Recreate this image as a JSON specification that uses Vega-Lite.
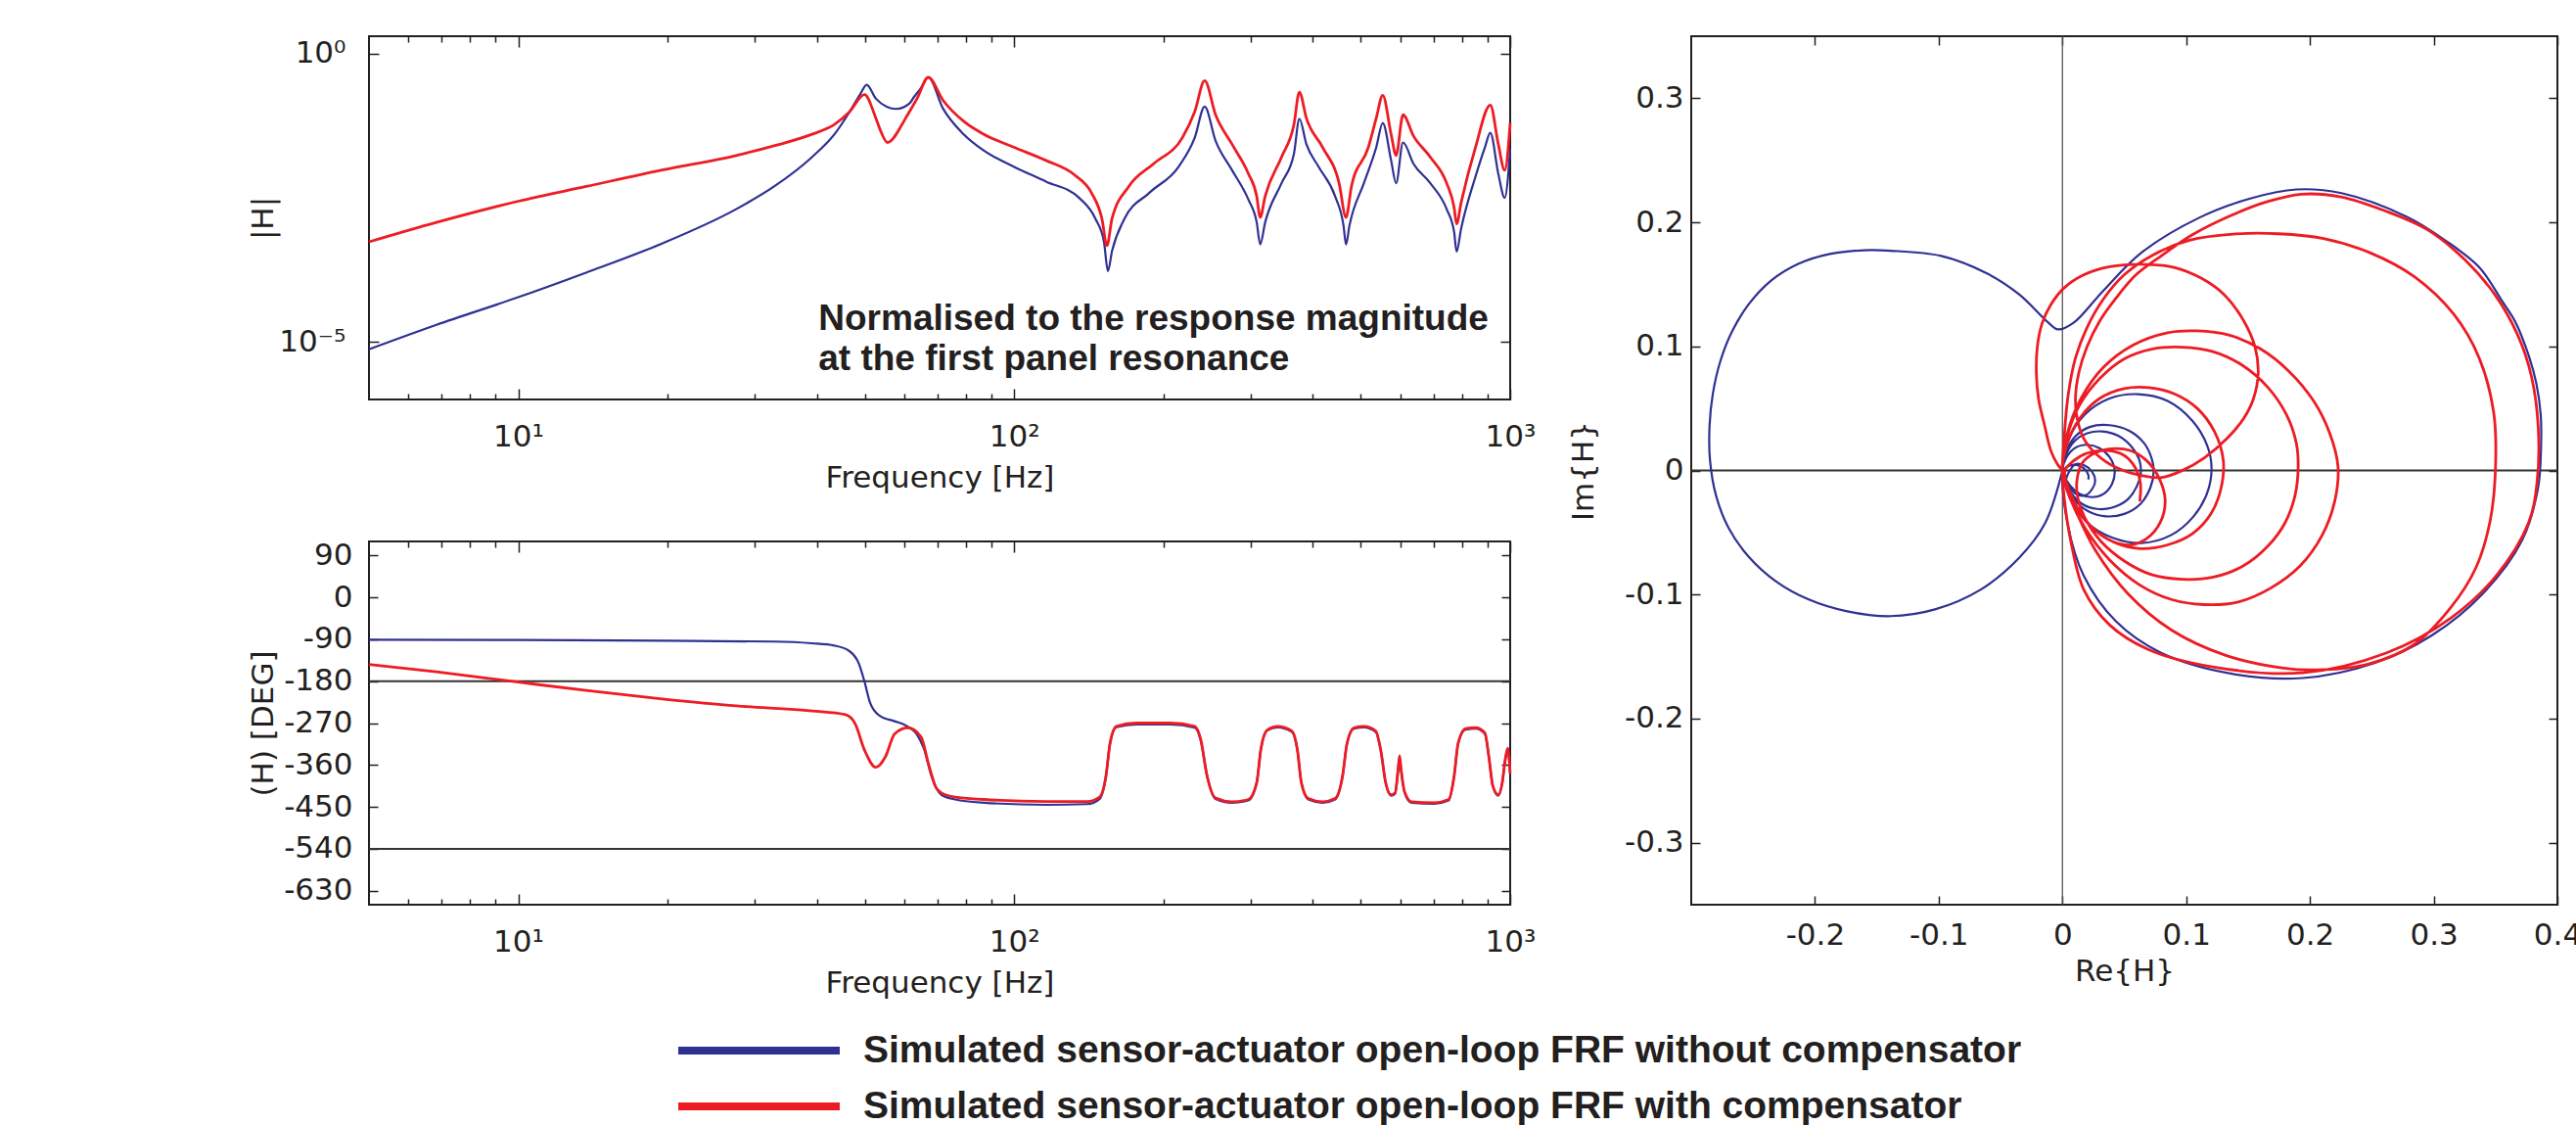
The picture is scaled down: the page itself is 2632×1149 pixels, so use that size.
{
  "$schema": "https://vega.github.io/schema/vega-lite/v6.json",
  "background": "white",
  "padding": {"left": 252, "top": 35, "right": 0, "bottom": 0},
  "config": {
    "view": {"stroke": "#231f20", "strokeWidth": 2},
    "font": "DejaVu Sans",
    "axis": {
      "labelFont": "DejaVu Sans", "labelFontSize": 31, "labelColor": "#231f20",
      "titleFont": "DejaVu Sans", "titleFontSize": 31, "titleFontWeight": "normal", "titleColor": "#231f20",
      "domain": false, "grid": false, "tickColor": "#231f20", "tickWidth": 1.5,
      "labelOverlap": false, "labelFlush": false, "labelBound": false
    },
    "legend": {
      "symbolType": "stroke", "symbolSize": 27225, "symbolStrokeWidth": 8, "clipHeight": 40,
      "rowPadding": 17, "labelOffset": 20, "labelFont": "Liberation Sans", "labelFontSize": 39,
      "labelFontWeight": "bold", "labelColor": "#231f20", "labelLimit": 3000, "padding": 0, "direction": "vertical"
    }
  },
  "datasets": {
    "magnitude": [
      {"series":"without","freq":5,"mag":7.41e-6},{"series":"without","freq":6.84,"mag":1.97e-5},{"series":"without","freq":10,"mag":5.94e-5},{"series":"without","freq":13.7,"mag":1.585e-4},{"series":"without","freq":19.5,"mag":5.08e-4},{"series":"without","freq":27.5,"mag":2.0e-3},{"series":"without","freq":32.8,"mag":4.95e-3},{"series":"without","freq":39.1,"mag":0.016},{"series":"without","freq":43.4,"mag":0.0398},{"series":"without","freq":46.6,"mag":0.0986},{"series":"without","freq":49.0,"mag":0.202},{"series":"without","freq":50.4,"mag":0.287},{"series":"without","freq":52.6,"mag":0.166},{"series":"without","freq":55.3,"mag":0.12},{"series":"without","freq":57.8,"mag":0.1096},{"series":"without","freq":61.5,"mag":0.1368},{"series":"without","freq":62.8,"mag":0.177},{"series":"without","freq":64.7,"mag":0.2455},{"series":"without","freq":67.1,"mag":0.387},{"series":"without","freq":71.8,"mag":0.1125},{"series":"without","freq":79.1,"mag":0.0397},{"series":"without","freq":86.9,"mag":0.0207},{"series":"without","freq":100,"mag":0.0108},{"series":"without","freq":115.9,"mag":6.03e-3},{"series":"without","freq":135.2,"mag":3.14e-3},{"series":"without","freq":145.9,"mag":1.35e-3},{"series":"without","freq":151.7,"mag":5.42e-4},{"series":"without","freq":154.5,"mag":1.68e-4},{"series":"without","freq":157.4,"mag":3.67e-4},{"series":"without","freq":166.7,"mag":1.35e-3},{"series":"without","freq":187.1,"mag":3.82e-3},{"series":"without","freq":214.3,"mag":0.0108},{"series":"without","freq":231.2,"mag":0.0348},{"series":"without","freq":242.1,"mag":0.12},{"series":"without","freq":254.7,"mag":0.0306},{"series":"without","freq":274.8,"mag":9.55e-3},{"series":"without","freq":296.5,"mag":2.95e-3},{"series":"without","freq":308.3,"mag":1.18e-3},{"series":"without","freq":313.3,"mag":4.9e-4},{"series":"without","freq":320.6,"mag":1.18e-3},{"series":"without","freq":345.9,"mag":5.64e-3},{"series":"without","freq":366.4,"mag":0.0182},{"series":"without","freq":375.8,"mag":0.0741},{"series":"without","freq":388.2,"mag":0.0269},{"series":"without","freq":411.1,"mag":0.0108},{"series":"without","freq":443.6,"mag":3.35e-3},{"series":"without","freq":461.3,"mag":1.04e-3},{"series":"without","freq":466.7,"mag":4.9e-4},{"series":"without","freq":474.2,"mag":1.04e-3},{"series":"without","freq":507,"mag":5.64e-3},{"series":"without","freq":537,"mag":0.0236},{"series":"without","freq":553.4,"mag":0.0627},{"series":"without","freq":575.4,"mag":0.014},{"series":"without","freq":588.8,"mag":5.64e-3},{"series":"without","freq":608.1,"mag":0.0287},{"series":"without","freq":638.3,"mag":0.0123},{"series":"without","freq":690.2,"mag":5.64e-3},{"series":"without","freq":744.7,"mag":2.0e-3},{"series":"without","freq":770.9,"mag":8.02e-4},{"series":"without","freq":779.8,"mag":3.67e-4},{"series":"without","freq":796.2,"mag":9.12e-4},{"series":"without","freq":851.1,"mag":7.31e-3},{"series":"without","freq":889.2,"mag":0.0236},{"series":"without","freq":912,"mag":0.0424},{"series":"without","freq":946.2,"mag":8.32e-3},{"series":"without","freq":975,"mag":3.14e-3},{"series":"without","freq":1000,"mag":0.0221},
      {"series":"with","freq":5,"mag":5.42e-4},{"series":"with","freq":6.84,"mag":1.18e-3},{"series":"with","freq":10,"mag":2.75e-3},{"series":"with","freq":13.7,"mag":4.95e-3},{"series":"with","freq":19.5,"mag":9.55e-3},{"series":"with","freq":27.5,"mag":0.0171},{"series":"with","freq":32.8,"mag":0.0251},{"series":"with","freq":39.1,"mag":0.0398},{"series":"with","freq":43.4,"mag":0.0589},{"series":"with","freq":46.6,"mag":0.0986},{"series":"with","freq":49.9,"mag":0.194},{"series":"with","freq":52.6,"mag":0.0759},{"series":"with","freq":53.8,"mag":0.0452},{"series":"with","freq":55.5,"mag":0.0287},{"series":"with","freq":59.4,"mag":0.0589},{"series":"with","freq":60.4,"mag":0.076},{"series":"with","freq":63.7,"mag":0.166},{"series":"with","freq":67.1,"mag":0.387},{"series":"with","freq":71.8,"mag":0.156},{"series":"with","freq":79.1,"mag":0.0668},{"series":"with","freq":86.9,"mag":0.0397},{"series":"with","freq":100,"mag":0.0236},{"series":"with","freq":115.9,"mag":0.014},{"series":"with","freq":132.4,"mag":7.82e-3},{"series":"with","freq":143.2,"mag":3.82e-3},{"series":"with","freq":150.3,"mag":1.35e-3},{"series":"with","freq":153.8,"mag":4.65e-4},{"series":"with","freq":157.4,"mag":1.35e-3},{"series":"with","freq":170.2,"mag":4.95e-3},{"series":"with","freq":191,"mag":0.0123},{"series":"with","freq":218.3,"mag":0.0348},{"series":"with","freq":231.2,"mag":0.0986},{"series":"with","freq":242.1,"mag":0.34},{"series":"with","freq":254.7,"mag":0.0867},{"series":"with","freq":274.8,"mag":0.0269},{"series":"with","freq":296.5,"mag":8.32e-3},{"series":"with","freq":308.3,"mag":3.35e-3},{"series":"with","freq":313.3,"mag":1.44e-3},{"series":"with","freq":320.6,"mag":3.35e-3},{"series":"with","freq":345.9,"mag":0.016},{"series":"with","freq":366.4,"mag":0.0586},{"series":"with","freq":375.8,"mag":0.215},{"series":"with","freq":388.2,"mag":0.076},{"series":"with","freq":418.8,"mag":0.0236},{"series":"with","freq":451.9,"mag":5.64e-3},{"series":"with","freq":466.7,"mag":1.44e-3},{"series":"with","freq":478.6,"mag":4.95e-3},{"series":"with","freq":517.6,"mag":0.0236},{"series":"with","freq":537,"mag":0.076},{"series":"with","freq":553.4,"mag":0.189},{"series":"with","freq":575.4,"mag":0.0397},{"series":"with","freq":588.8,"mag":0.0171},{"series":"with","freq":608.1,"mag":0.0867},{"series":"with","freq":638.3,"mag":0.0372},{"series":"with","freq":690.2,"mag":0.016},{"series":"with","freq":744.7,"mag":5.64e-3},{"series":"with","freq":770.9,"mag":2.13e-3},{"series":"with","freq":779.8,"mag":1.11e-3},{"series":"with","freq":796.2,"mag":2.58e-3},{"series":"with","freq":851.1,"mag":0.0236},{"series":"with","freq":912,"mag":0.128},{"series":"with","freq":946.2,"mag":0.0269},{"series":"with","freq":975,"mag":9.48e-3},{"series":"with","freq":1000,"mag":0.0627}
    ],
    "phase": [
      {"series":"without","freq":5,"phase":-91},{"series":"without","freq":10,"phase":-91.7},{"series":"without","freq":19.5,"phase":-93},{"series":"without","freq":32.8,"phase":-95},{"series":"without","freq":39.1,"phase":-98.7},{"series":"without","freq":43.4,"phase":-103.6},{"series":"without","freq":46.6,"phase":-116},{"series":"without","freq":48.6,"phase":-142},{"series":"without","freq":49.9,"phase":-181},{"series":"without","freq":51.2,"phase":-226},{"series":"without","freq":53.5,"phase":-254},{"series":"without","freq":57.4,"phase":-266},{"series":"without","freq":60.4,"phase":-275},{"series":"without","freq":63.7,"phase":-295},{"series":"without","freq":65.9,"phase":-328},{"series":"without","freq":68.2,"phase":-386},{"series":"without","freq":71.3,"phase":-424},{"series":"without","freq":76,"phase":-434},{"series":"without","freq":86.9,"phase":-441},{"series":"without","freq":115.9,"phase":-445.5},{"series":"without","freq":140.3,"phase":-444},{"series":"without","freq":148.6,"phase":-433},{"series":"without","freq":153.1,"phase":-384},{"series":"without","freq":156,"phase":-314},{"series":"without","freq":160.7,"phase":-279},{"series":"without","freq":176.6,"phase":-273},{"series":"without","freq":206.1,"phase":-273},{"series":"without","freq":231.2,"phase":-280},{"series":"without","freq":237.7,"phase":-307},{"series":"without","freq":244.9,"phase":-384},{"series":"without","freq":254.7,"phase":-433},{"series":"without","freq":274.8,"phase":-441},{"series":"without","freq":296.5,"phase":-436},{"series":"without","freq":308.3,"phase":-398},{"series":"without","freq":314.1,"phase":-328},{"series":"without","freq":323.6,"phase":-286},{"series":"without","freq":339.6,"phase":-279},{"series":"without","freq":363.1,"phase":-289},{"series":"without","freq":372.4,"phase":-328},{"series":"without","freq":379.3,"phase":-398},{"series":"without","freq":391.7,"phase":-434},{"series":"without","freq":418.8,"phase":-441},{"series":"without","freq":443.6,"phase":-434},{"series":"without","freq":459.2,"phase":-384},{"series":"without","freq":468.8,"phase":-314},{"series":"without","freq":484.2,"phase":-282},{"series":"without","freq":507,"phase":-279},{"series":"without","freq":535.8,"phase":-289},{"series":"without","freq":548.3,"phase":-328},{"series":"without","freq":561,"phase":-398},{"series":"without","freq":575.4,"phase":-426},{"series":"without","freq":586.1,"phase":-422},{"series":"without","freq":594.3,"phase":-370},{"series":"without","freq":598.4,"phase":-342},{"series":"without","freq":602.6,"phase":-370},{"series":"without","freq":612.4,"phase":-419},{"series":"without","freq":632.4,"phase":-441},{"series":"without","freq":703.1,"phase":-443},{"series":"without","freq":751.6,"phase":-436},{"series":"without","freq":770.9,"phase":-384},{"series":"without","freq":785.2,"phase":-314},{"series":"without","freq":812.8,"phase":-284},{"series":"without","freq":851.1,"phase":-282},{"series":"without","freq":889.2,"phase":-293},{"series":"without","freq":905.7,"phase":-342},{"series":"without","freq":922.6,"phase":-405},{"series":"without","freq":946.2,"phase":-426},{"series":"without","freq":963.9,"phase":-398},{"series":"without","freq":977.2,"phase":-349},{"series":"without","freq":988.6,"phase":-326},{"series":"without","freq":1000,"phase":-380},
      {"series":"with","freq":5,"phase":-144},{"series":"with","freq":6.84,"phase":-160},{"series":"with","freq":10,"phase":-182},{"series":"with","freq":13.7,"phase":-200},{"series":"with","freq":19.5,"phase":-218},{"series":"with","freq":27.5,"phase":-233},{"series":"with","freq":39.1,"phase":-244},{"series":"with","freq":45.7,"phase":-252},{"series":"with","freq":47.8,"phase":-272},{"series":"with","freq":49.9,"phase":-328},{"series":"with","freq":52.6,"phase":-365},{"series":"with","freq":55,"phase":-342},{"series":"with","freq":57.4,"phase":-293},{"series":"with","freq":61,"phase":-280},{"series":"with","freq":64.9,"phase":-300},{"series":"with","freq":67.1,"phase":-356},{"series":"with","freq":69.5,"phase":-408},{"series":"with","freq":71.1,"phase":-419},{"series":"with","freq":76,"phase":-429},{"series":"with","freq":86.9,"phase":-434},{"series":"with","freq":115.9,"phase":-438.5},{"series":"with","freq":140.3,"phase":-438.5},{"series":"with","freq":148.6,"phase":-429},{"series":"with","freq":153.1,"phase":-384},{"series":"with","freq":156,"phase":-314},{"series":"with","freq":160.7,"phase":-277},{"series":"with","freq":176.6,"phase":-270},{"series":"with","freq":206.1,"phase":-270},{"series":"with","freq":231.2,"phase":-277},{"series":"with","freq":237.7,"phase":-305},{"series":"with","freq":244.9,"phase":-384},{"series":"with","freq":254.7,"phase":-431},{"series":"with","freq":274.8,"phase":-439},{"series":"with","freq":296.5,"phase":-434},{"series":"with","freq":308.3,"phase":-398},{"series":"with","freq":314.1,"phase":-328},{"series":"with","freq":323.6,"phase":-285},{"series":"with","freq":339.6,"phase":-277},{"series":"with","freq":363.1,"phase":-287},{"series":"with","freq":372.4,"phase":-328},{"series":"with","freq":379.3,"phase":-398},{"series":"with","freq":391.7,"phase":-432},{"series":"with","freq":418.8,"phase":-439},{"series":"with","freq":443.6,"phase":-432},{"series":"with","freq":459.2,"phase":-384},{"series":"with","freq":468.8,"phase":-314},{"series":"with","freq":484.2,"phase":-280},{"series":"with","freq":507,"phase":-277},{"series":"with","freq":535.8,"phase":-287},{"series":"with","freq":548.3,"phase":-328},{"series":"with","freq":561,"phase":-398},{"series":"with","freq":575.4,"phase":-424},{"series":"with","freq":586.1,"phase":-420},{"series":"with","freq":594.3,"phase":-370},{"series":"with","freq":598.4,"phase":-340},{"series":"with","freq":602.6,"phase":-370},{"series":"with","freq":612.4,"phase":-417},{"series":"with","freq":632.4,"phase":-439},{"series":"with","freq":703.1,"phase":-441},{"series":"with","freq":751.6,"phase":-434},{"series":"with","freq":770.9,"phase":-384},{"series":"with","freq":785.2,"phase":-314},{"series":"with","freq":812.8,"phase":-282},{"series":"with","freq":851.1,"phase":-280},{"series":"with","freq":889.2,"phase":-291},{"series":"with","freq":905.7,"phase":-342},{"series":"with","freq":922.6,"phase":-405},{"series":"with","freq":946.2,"phase":-424},{"series":"with","freq":963.9,"phase":-398},{"series":"with","freq":977.2,"phase":-349},{"series":"with","freq":988.6,"phase":-324},{"series":"with","freq":1000,"phase":-378}
    ],
    "nyquist": [
      {"series":"without","step":0,"re":0,"im":0},{"series":"without","step":1,"re":-0.0141,"im":-0.0427},{"series":"without","step":2,"re":-0.035,"im":-0.0705},{"series":"without","step":3,"re":-0.066,"im":-0.096},{"series":"without","step":4,"re":-0.103,"im":-0.112},{"series":"without","step":5,"re":-0.139,"im":-0.1174},{"series":"without","step":6,"re":-0.174,"im":-0.1135},{"series":"without","step":7,"re":-0.205,"im":-0.104},{"series":"without","step":8,"re":-0.232,"im":-0.089},{"series":"without","step":9,"re":-0.254,"im":-0.069},{"series":"without","step":10,"re":-0.27,"im":-0.046},{"series":"without","step":11,"re":-0.28,"im":-0.02},{"series":"without","step":12,"re":-0.2848,"im":0.008},{"series":"without","step":13,"re":-0.2852,"im":0.036},{"series":"without","step":14,"re":-0.2825,"im":0.062},{"series":"without","step":15,"re":-0.2765,"im":0.088},{"series":"without","step":16,"re":-0.267,"im":0.112},{"series":"without","step":17,"re":-0.2535,"im":0.134},{"series":"without","step":18,"re":-0.2355,"im":0.153},{"series":"without","step":19,"re":-0.2135,"im":0.1665},{"series":"without","step":20,"re":-0.188,"im":0.1745},{"series":"without","step":21,"re":-0.16,"im":0.1775},{"series":"without","step":22,"re":-0.139,"im":0.1771},{"series":"without","step":22.2,"re":-0.098,"im":0.1729},{"series":"without","step":22.4,"re":-0.061,"im":0.1588},{"series":"without","step":22.6,"re":-0.035,"im":0.1419},{"series":"without","step":22.8,"re":-0.0115,"im":0.1193},{"series":"without","step":23,"re":-0.0037,"im":0.1137},{"series":"without","step":24,"re":0.0093,"im":0.1193},{"series":"without","step":25,"re":0.0328,"im":0.1447},{"series":"without","step":26,"re":0.064,"im":0.1757},{"series":"without","step":27,"re":0.1109,"im":0.2039},{"series":"without","step":28,"re":0.1525,"im":0.2194},{"series":"without","step":29,"re":0.189,"im":0.2265},{"series":"without","step":30,"re":0.2255,"im":0.2235},{"series":"without","step":31,"re":0.278,"im":0.2046},{"series":"without","step":31.5,"re":0.31,"im":0.185},{"series":"without","step":32,"re":0.337,"im":0.1636},{"series":"without","step":32.5,"re":0.355,"im":0.137},{"series":"without","step":33,"re":0.366,"im":0.1198},{"series":"without","step":33.5,"re":0.377,"im":0.092},{"series":"without","step":34,"re":0.383,"im":0.07},{"series":"without","step":34.5,"re":0.3865,"im":0.045},{"series":"without","step":35,"re":0.3868,"im":0.02},{"series":"without","step":36,"re":0.3843,"im":-0.0145},{"series":"without","step":37,"re":0.3713,"im":-0.0567},{"series":"without","step":38,"re":0.34,"im":-0.099},{"series":"without","step":39,"re":0.2984,"im":-0.133},{"series":"without","step":40,"re":0.2515,"im":-0.1555},{"series":"without","step":41,"re":0.1942,"im":-0.1673},{"series":"without","step":42,"re":0.137,"im":-0.1639},{"series":"without","step":43,"re":0.0797,"im":-0.147},{"series":"without","step":44,"re":0.0432,"im":-0.1216},{"series":"without","step":45,"re":0.0172,"im":-0.0849},{"series":"without","step":46,"re":0.0041,"im":-0.0427},{"series":"without","step":47,"re":0,"im":0},
      {"series":"without","step":48,"re":0.005,"im":0.025},{"series":"without","step":49,"re":0.018,"im":0.045},{"series":"without","step":50,"re":0.038,"im":0.058},{"series":"without","step":51,"re":0.061,"im":0.0615},{"series":"without","step":52,"re":0.085,"im":0.056},{"series":"without","step":53,"re":0.105,"im":0.04},{"series":"without","step":54,"re":0.117,"im":0.02},{"series":"without","step":55,"re":0.1205,"im":0.002},{"series":"without","step":56,"re":0.117,"im":-0.018},{"series":"without","step":57,"re":0.106,"im":-0.037},{"series":"without","step":58,"re":0.088,"im":-0.052},{"series":"without","step":59,"re":0.064,"im":-0.0585},{"series":"without","step":60,"re":0.04,"im":-0.054},{"series":"without","step":61,"re":0.02,"im":-0.042},{"series":"without","step":62,"re":0.006,"im":-0.022},{"series":"without","step":63,"re":0,"im":0},
      {"series":"without","step":64,"re":0.003,"im":0.015},{"series":"without","step":65,"re":0.01,"im":0.027},{"series":"without","step":66,"re":0.022,"im":0.035},{"series":"without","step":67,"re":0.038,"im":0.0365},{"series":"without","step":68,"re":0.054,"im":0.032},{"series":"without","step":69,"re":0.066,"im":0.022},{"series":"without","step":70,"re":0.072,"im":0.01},{"series":"without","step":71,"re":0.0738,"im":0},{"series":"without","step":72,"re":0.071,"im":-0.014},{"series":"without","step":73,"re":0.063,"im":-0.027},{"series":"without","step":74,"re":0.05,"im":-0.035},{"series":"without","step":75,"re":0.035,"im":-0.037},{"series":"without","step":76,"re":0.021,"im":-0.033},{"series":"without","step":77,"re":0.01,"im":-0.024},{"series":"without","step":78,"re":0.003,"im":-0.012},{"series":"without","step":79,"re":0,"im":0},
      {"series":"without","step":80,"re":0.003,"im":0.013},{"series":"without","step":81,"re":0.01,"im":0.024},{"series":"without","step":82,"re":0.02,"im":0.03},{"series":"without","step":83,"re":0.032,"im":0.0315},{"series":"without","step":84,"re":0.045,"im":0.028},{"series":"without","step":85,"re":0.056,"im":0.019},{"series":"without","step":86,"re":0.062,"im":0.009},{"series":"without","step":87,"re":0.0633,"im":-0.002},{"series":"without","step":88,"re":0.06,"im":-0.013},{"series":"without","step":89,"re":0.052,"im":-0.024},{"series":"without","step":90,"re":0.04,"im":-0.03},{"series":"without","step":91,"re":0.028,"im":-0.031},{"series":"without","step":92,"re":0.016,"im":-0.027},{"series":"without","step":93,"re":0.007,"im":-0.018},{"series":"without","step":94,"re":0.003,"im":-0.008},
      {"series":"without","step":95,"re":0.006,"im":0},{"series":"without","step":96,"re":0.0105,"im":0.005},{"series":"without","step":97,"re":0.018,"im":0.004},{"series":"without","step":98,"re":0.024,"im":-0.001},{"series":"without","step":99,"re":0.0265,"im":-0.008},{"series":"without","step":100,"re":0.024,"im":-0.015},{"series":"without","step":101,"re":0.0185,"im":-0.02},{"series":"without","step":102,"re":0.011,"im":-0.019},{"series":"without","step":103,"re":0.005,"im":-0.012},{"series":"without","step":104,"re":0.001,"im":-0.004},{"series":"without","step":105,"re":0,"im":0},
      {"series":"without","step":106,"re":0.003,"im":0.01},{"series":"without","step":107,"re":0.01,"im":0.018},{"series":"without","step":108,"re":0.0198,"im":0.0207},{"series":"without","step":109,"re":0.03,"im":0.018},{"series":"without","step":110,"re":0.038,"im":0.011},{"series":"without","step":111,"re":0.0422,"im":0},{"series":"without","step":112,"re":0.04,"im":-0.011},{"series":"without","step":113,"re":0.033,"im":-0.019},{"series":"without","step":114,"re":0.024,"im":-0.0215},{"series":"without","step":115,"re":0.014,"im":-0.019},{"series":"without","step":116,"re":0.006,"im":-0.012},{"series":"without","step":117,"re":0.002,"im":-0.005},{"series":"without","step":118,"re":0.001,"im":0},
      {"series":"without","step":119,"re":0.006,"im":0.004},{"series":"without","step":120,"re":0.013,"im":0.004},{"series":"without","step":121,"re":0.019,"im":0},{"series":"without","step":122,"re":0.021,"im":-0.004},{"series":"without","step":123,"re":0.0209,"im":-0.0073},
      {"series":"with","step":0,"re":0,"im":0},{"series":"with","step":1,"re":-0.004,"im":0.005},{"series":"with","step":2,"re":-0.0092,"im":0.0155},{"series":"with","step":3,"re":-0.0145,"im":0.0365},{"series":"with","step":4,"re":-0.0193,"im":0.0576},{"series":"with","step":5,"re":-0.0211,"im":0.0787},{"series":"with","step":6,"re":-0.0203,"im":0.0997},{"series":"with","step":7,"re":-0.0166,"im":0.1181},{"series":"with","step":8,"re":-0.0092,"im":0.1339},{"series":"with","step":9,"re":0.0013,"im":0.1471},{"series":"with","step":10,"re":0.0171,"im":0.1576},{"series":"with","step":11,"re":0.0382,"im":0.1642},{"series":"with","step":12,"re":0.0699,"im":0.1661},{"series":"with","step":13,"re":0.091,"im":0.1635},{"series":"with","step":14,"re":0.1121,"im":0.155},{"series":"with","step":15,"re":0.1305,"im":0.1419},{"series":"with","step":16,"re":0.1464,"im":0.1208},{"series":"with","step":17,"re":0.1556,"im":0.0997},{"series":"with","step":18,"re":0.1582,"im":0.0787},{"series":"with","step":19,"re":0.1543,"im":0.0576},{"series":"with","step":20,"re":0.1464,"im":0.0418},{"series":"with","step":21,"re":0.1332,"im":0.026},{"series":"with","step":22,"re":0.1147,"im":0.0102},{"series":"with","step":23,"re":0.0963,"im":-0.0003},{"series":"with","step":24,"re":0.0804,"im":-0.0056},{"series":"with","step":25,"re":0.0646,"im":-0.0043},{"series":"with","step":26,"re":0.0435,"im":0.0023},{"series":"with","step":27,"re":0.0277,"im":0.0128},{"series":"with","step":28,"re":0.0171,"im":0.026},{"series":"with","step":29,"re":0.0119,"im":0.0418},{"series":"with","step":30,"re":0.0105,"im":0.0576},
      {"series":"with","step":31,"re":0.0132,"im":0.0787},{"series":"with","step":32,"re":0.0198,"im":0.0997},{"series":"with","step":33,"re":0.0303,"im":0.1208},{"series":"with","step":34,"re":0.0435,"im":0.1392},{"series":"with","step":35,"re":0.0593,"im":0.1576},{"series":"with","step":36,"re":0.0804,"im":0.1734},{"series":"with","step":37,"re":0.105,"im":0.19},{"series":"with","step":38,"re":0.135,"im":0.205},{"series":"with","step":39,"re":0.165,"im":0.2165},{"series":"with","step":40,"re":0.1934,"im":0.2227},{"series":"with","step":41,"re":0.225,"im":0.2205},{"series":"with","step":42,"re":0.26,"im":0.2095},{"series":"with","step":43,"re":0.295,"im":0.194},{"series":"with","step":44,"re":0.325,"im":0.17},{"series":"with","step":45,"re":0.35,"im":0.141},{"series":"with","step":46,"re":0.368,"im":0.109},{"series":"with","step":47,"re":0.379,"im":0.076},{"series":"with","step":48,"re":0.3845,"im":0.035},{"series":"with","step":49,"re":0.3835,"im":-0.01},{"series":"with","step":50,"re":0.3765,"im":-0.0427},{"series":"with","step":51,"re":0.3505,"im":-0.0849},{"series":"with","step":52,"re":0.314,"im":-0.1188},{"series":"with","step":53,"re":0.262,"im":-0.147},{"series":"with","step":54,"re":0.1942,"im":-0.1631},{"series":"with","step":55,"re":0.1213,"im":-0.1583},{"series":"with","step":56,"re":0.0692,"im":-0.1442},{"series":"with","step":57,"re":0.038,"im":-0.1244},{"series":"with","step":58,"re":0.0172,"im":-0.096},{"series":"with","step":59,"re":0.0067,"im":-0.0567},{"series":"with","step":60,"re":0.0015,"im":-0.0229},{"series":"with","step":61,"re":0,"im":0},
      {"series":"with","step":62,"re":0.0018,"im":0.0321},{"series":"with","step":63,"re":0.0047,"im":0.0614},{"series":"with","step":64,"re":0.0105,"im":0.0906},{"series":"with","step":65,"re":0.0193,"im":0.114},{"series":"with","step":66,"re":0.0325,"im":0.1373},{"series":"with","step":67,"re":0.05,"im":0.1578},{"series":"with","step":68,"re":0.0735,"im":0.1739},{"series":"with","step":69,"re":0.1027,"im":0.1856},{"series":"with","step":70,"re":0.1378,"im":0.1905},{"series":"with","step":71,"re":0.1744,"im":0.1908},{"series":"with","step":72,"re":0.211,"im":0.187},{"series":"with","step":73,"re":0.249,"im":0.1753},{"series":"with","step":74,"re":0.2842,"im":0.1563},{"series":"with","step":75,"re":0.3164,"im":0.1257},{"series":"with","step":76,"re":0.3368,"im":0.0906},{"series":"with","step":77,"re":0.3485,"im":0.0468},{"series":"with","step":78,"re":0.35,"im":0.0029},{"series":"with","step":79,"re":0.3456,"im":-0.0409},{"series":"with","step":80,"re":0.3339,"im":-0.0789},{"series":"with","step":81,"re":0.3134,"im":-0.111},{"series":"with","step":82,"re":0.2842,"im":-0.1403},{"series":"with","step":83,"re":0.2461,"im":-0.1563},{"series":"with","step":84,"re":0.2051,"im":-0.1607},{"series":"with","step":85,"re":0.1788,"im":-0.1593},{"series":"with","step":86,"re":0.132,"im":-0.149},{"series":"with","step":87,"re":0.0881,"im":-0.1286},{"series":"with","step":88,"re":0.053,"im":-0.0994},{"series":"with","step":89,"re":0.0266,"im":-0.0643},{"series":"with","step":90,"re":0.012,"im":-0.0351},{"series":"with","step":91,"re":0.0032,"im":-0.0117},{"series":"with","step":92,"re":0,"im":0},
      {"series":"with","step":93,"re":0.004,"im":0.03},{"series":"with","step":94,"re":0.015,"im":0.058},{"series":"with","step":95,"re":0.033,"im":0.083},{"series":"with","step":96,"re":0.057,"im":0.101},{"series":"with","step":97,"re":0.085,"im":0.111},{"series":"with","step":98,"re":0.1086,"im":0.1125},{"series":"with","step":99,"re":0.135,"im":0.109},{"series":"with","step":100,"re":0.16,"im":0.098},{"series":"with","step":101,"re":0.183,"im":0.08},{"series":"with","step":102,"re":0.203,"im":0.056},{"series":"with","step":103,"re":0.216,"im":0.03},{"series":"with","step":104,"re":0.2227,"im":0.003},{"series":"with","step":105,"re":0.22,"im":-0.025},{"series":"with","step":106,"re":0.21,"im":-0.052},{"series":"with","step":107,"re":0.192,"im":-0.077},{"series":"with","step":108,"re":0.168,"im":-0.095},{"series":"with","step":109,"re":0.142,"im":-0.106},{"series":"with","step":110,"re":0.1144,"im":-0.1081},{"series":"with","step":111,"re":0.088,"im":-0.104},{"series":"with","step":112,"re":0.062,"im":-0.092},{"series":"with","step":113,"re":0.038,"im":-0.072},{"series":"with","step":114,"re":0.018,"im":-0.046},{"series":"with","step":115,"re":0.006,"im":-0.022},{"series":"with","step":116,"re":0,"im":0},
      {"series":"with","step":117,"re":0.004,"im":0.028},{"series":"with","step":118,"re":0.014,"im":0.053},{"series":"with","step":119,"re":0.03,"im":0.074},{"series":"with","step":120,"re":0.05,"im":0.09},{"series":"with","step":121,"re":0.073,"im":0.098},{"series":"with","step":122,"re":0.0969,"im":0.0994},{"series":"with","step":123,"re":0.121,"im":0.096},{"series":"with","step":124,"re":0.145,"im":0.085},{"series":"with","step":125,"re":0.166,"im":0.067},{"series":"with","step":126,"re":0.181,"im":0.045},{"series":"with","step":127,"re":0.189,"im":0.022},{"series":"with","step":128,"re":0.1905,"im":0.003},{"series":"with","step":129,"re":0.188,"im":-0.02},{"series":"with","step":130,"re":0.18,"im":-0.042},{"series":"with","step":131,"re":0.166,"im":-0.061},{"series":"with","step":132,"re":0.146,"im":-0.077},{"series":"with","step":133,"re":0.122,"im":-0.086},{"series":"with","step":134,"re":0.0969,"im":-0.0877},{"series":"with","step":135,"re":0.072,"im":-0.084},{"series":"with","step":136,"re":0.05,"im":-0.073},{"series":"with","step":137,"re":0.031,"im":-0.057},{"series":"with","step":138,"re":0.018,"im":-0.038},{"series":"with","step":139,"re":0.012,"im":-0.02},{"series":"with","step":140,"re":0.012,"im":-0.006},
      {"series":"with","step":141,"re":0.016,"im":0.006},{"series":"with","step":142,"re":0.026,"im":0.014},{"series":"with","step":143,"re":0.04,"im":0.0175},{"series":"with","step":144,"re":0.055,"im":0.016},{"series":"with","step":145,"re":0.068,"im":0.008},{"series":"with","step":146,"re":0.078,"im":-0.006},{"series":"with","step":147,"re":0.083,"im":-0.024},{"series":"with","step":148,"re":0.079,"im":-0.042},{"series":"with","step":149,"re":0.068,"im":-0.055},{"series":"with","step":150,"re":0.055,"im":-0.06},{"series":"with","step":151,"re":0.04,"im":-0.057},{"series":"with","step":152,"re":0.025,"im":-0.047},{"series":"with","step":153,"re":0.012,"im":-0.03},{"series":"with","step":154,"re":0.004,"im":-0.012},{"series":"with","step":155,"re":0,"im":0},
      {"series":"with","step":156,"re":0.004,"im":0.022},{"series":"with","step":157,"re":0.014,"im":0.042},{"series":"with","step":158,"re":0.03,"im":0.058},{"series":"with","step":159,"re":0.05,"im":0.066},{"series":"with","step":160,"re":0.0699,"im":0.0668},{"series":"with","step":161,"re":0.09,"im":0.062},{"series":"with","step":162,"re":0.109,"im":0.05},{"series":"with","step":163,"re":0.123,"im":0.031},{"series":"with","step":164,"re":0.13,"im":0.008},{"series":"with","step":165,"re":0.128,"im":-0.015},{"series":"with","step":166,"re":0.12,"im":-0.035},{"series":"with","step":167,"re":0.105,"im":-0.051},{"series":"with","step":168,"re":0.085,"im":-0.06},{"series":"with","step":169,"re":0.063,"im":-0.063},{"series":"with","step":170,"re":0.042,"im":-0.058},{"series":"with","step":171,"re":0.024,"im":-0.046},{"series":"with","step":172,"re":0.01,"im":-0.028},{"series":"with","step":173,"re":0.003,"im":-0.01},{"series":"with","step":174,"re":0.002,"im":0},
      {"series":"with","step":175,"re":0.008,"im":0.007},{"series":"with","step":176,"re":0.02,"im":0.014},{"series":"with","step":177,"re":0.036,"im":0.016},{"series":"with","step":178,"re":0.05,"im":0.012},{"series":"with","step":179,"re":0.059,"im":0.002},{"series":"with","step":180,"re":0.063,"im":-0.01},{"series":"with","step":181,"re":0.0625,"im":-0.025}
    ]
  },
  "hconcat": [
    {
      "vconcat": [
        {
          "width": 1166, "height": 371,
          "data": {"name": "magnitude"},
          "layer": [
            {
              "transform": [{"filter": "datum.series === 'without'"}],
              "mark": {"type": "line", "strokeWidth": 2.2, "interpolate": "monotone"},
              "encoding": {
                "x": {"field": "freq", "type": "quantitative", "scale": {"type": "log", "domain": [5, 1000], "nice": false},
                  "axis": {"orient": "bottom", "values": [6,7,8,9,10,20,30,40,50,60,70,80,90,100,200,300,400,500,600,700,800,900,1000],
                    "labelExpr": "datum.value == 10 ? '10¹' : datum.value == 100 ? '10²' : datum.value == 1000 ? '10³' : ''",
                    "tickSize": {"condition": {"test": "datum.value == 10 || datum.value == 100 || datum.value == 1000", "value": -11}, "value": -6},
                    "labelPadding": 34, "title": "Frequency [Hz]", "titleBaseline": "alphabetic", "titleY": 89}},
                "y": {"field": "mag", "type": "quantitative", "scale": {"type": "log", "domain": [0.000001, 2], "nice": false},
                  "axis": {"orient": "left", "values": [0.00001, 1], "labelExpr": "datum.value > 0.1 ? '10⁰' : '10⁻⁵'",
                    "tickSize": -10, "labelPadding": 34, "title": "|H|", "titleX": -99, "titleY": 185.5, "titleBaseline": "alphabetic"}},
                "color": {"field": "series", "type": "nominal", "scale": {"domain": ["without", "with"], "range": ["#2e3192", "#ed1c24"]},
                  "legend": {"title": null, "orient": "none", "legendX": 312, "legendY": 1016, "labelExpr": "'Simulated sensor-actuator open-loop FRF ' + datum.label + ' compensator'"}}
              }
            },
            {
              "transform": [{"filter": "datum.series === 'with'"}],
              "mark": {"type": "line", "strokeWidth": 2.8, "interpolate": "monotone"},
              "encoding": {
                "x": {"field": "freq", "type": "quantitative", "scale": {"type": "log", "domain": [5, 1000], "nice": false},
                  "axis": {"orient": "top", "values": [6,7,8,9,10,20,30,40,50,60,70,80,90,100,200,300,400,500,600,700,800,900,1000], "labels": false,
                    "tickSize": {"condition": {"test": "datum.value == 10 || datum.value == 100 || datum.value == 1000", "value": -11}, "value": -6}, "title": null}},
                "y": {"field": "mag", "type": "quantitative", "scale": {"type": "log", "domain": [0.000001, 2], "nice": false},
                  "axis": {"orient": "right", "values": [0.00001, 1], "labels": false, "tickSize": -10, "title": null}},
                "color": {"field": "series", "type": "nominal", "scale": {"domain": ["without", "with"], "range": ["#2e3192", "#ed1c24"]},
                  "legend": {"title": null, "orient": "none", "legendX": 312, "legendY": 1016, "labelExpr": "'Simulated sensor-actuator open-loop FRF ' + datum.label + ' compensator'"}}
              }
            },
            {
              "data": {"values": [{}]},
              "mark": {"type": "text", "align": "left", "baseline": "alphabetic", "font": "Liberation Sans", "fontSize": 37, "fontWeight": "bold",
                "color": "#231f20", "lineBreak": "\n", "lineHeight": 41, "text": "Normalised to the response magnitude\nat the first panel resonance"},
              "encoding": {
                "x": {"datum": 40.3, "type": "quantitative", "axis": null},
                "y": {"datum": 0.000016, "type": "quantitative", "axis": null}
              }
            }
          ],
          "resolve": {"axis": {"x": "independent", "y": "independent"}}
        },
        {
          "width": 1166, "height": 371,
          "data": {"name": "phase"},
          "layer": [
            {
              "data": {"values": [{"level": -180}, {"level": -540}]},
              "mark": {"type": "rule", "color": "#333333", "strokeWidth": 2},
              "encoding": {"y": {"field": "level", "type": "quantitative", "axis": null}}
            },
            {
              "transform": [{"filter": "datum.series === 'without'"}],
              "mark": {"type": "line", "strokeWidth": 2.2, "interpolate": "monotone"},
              "encoding": {
                "x": {"field": "freq", "type": "quantitative", "scale": {"type": "log", "domain": [5, 1000], "nice": false},
                  "axis": {"orient": "bottom", "values": [6,7,8,9,10,20,30,40,50,60,70,80,90,100,200,300,400,500,600,700,800,900,1000],
                    "labelExpr": "datum.value == 10 ? '10¹' : datum.value == 100 ? '10²' : datum.value == 1000 ? '10³' : ''",
                    "tickSize": {"condition": {"test": "datum.value == 10 || datum.value == 100 || datum.value == 1000", "value": -11}, "value": -6},
                    "labelPadding": 34, "title": "Frequency [Hz]", "titleBaseline": "alphabetic", "titleY": 89}},
                "y": {"field": "phase", "type": "quantitative", "scale": {"domain": [-660, 120], "nice": false, "zero": false},
                  "axis": {"orient": "left", "values": [-630,-540,-450,-360,-270,-180,-90,0,90], "format": "d",
                    "labelExpr": "replace(datum.label, '−', '-')", "tickSize": -9, "labelPadding": 26,
                    "title": "(H) [DEG]", "titleX": -99, "titleY": 185.5, "titleBaseline": "alphabetic"}},
                "color": {"field": "series", "type": "nominal", "scale": {"domain": ["without", "with"], "range": ["#2e3192", "#ed1c24"]},
                  "legend": {"title": null, "orient": "none", "legendX": 312, "legendY": 1016, "labelExpr": "'Simulated sensor-actuator open-loop FRF ' + datum.label + ' compensator'"}}
              }
            },
            {
              "transform": [{"filter": "datum.series === 'with'"}],
              "mark": {"type": "line", "strokeWidth": 2.8, "interpolate": "monotone"},
              "encoding": {
                "x": {"field": "freq", "type": "quantitative", "scale": {"type": "log", "domain": [5, 1000], "nice": false},
                  "axis": {"orient": "top", "values": [6,7,8,9,10,20,30,40,50,60,70,80,90,100,200,300,400,500,600,700,800,900,1000], "labels": false,
                    "tickSize": {"condition": {"test": "datum.value == 10 || datum.value == 100 || datum.value == 1000", "value": -11}, "value": -6}, "title": null}},
                "y": {"field": "phase", "type": "quantitative", "scale": {"domain": [-660, 120], "nice": false, "zero": false},
                  "axis": {"orient": "right", "values": [-630,-540,-450,-360,-270,-180,-90,0,90], "labels": false, "tickSize": -9, "title": null}},
                "color": {"field": "series", "type": "nominal", "scale": {"domain": ["without", "with"], "range": ["#2e3192", "#ed1c24"]},
                  "legend": {"title": null, "orient": "none", "legendX": 312, "legendY": 1016, "labelExpr": "'Simulated sensor-actuator open-loop FRF ' + datum.label + ' compensator'"}}
              }
            }
          ],
          "resolve": {"axis": {"x": "independent", "y": "independent"}}
        }
      ],
      "spacing": 145,
      "bounds": "flush"
    },
    {
      "width": 885, "height": 887,
      "data": {"name": "nyquist"},
      "layer": [
        {
          "data": {"values": [{}]},
          "mark": {"type": "rule", "color": "#555555", "strokeWidth": 1.3},
          "encoding": {"x": {"datum": 0, "type": "quantitative", "axis": null}}
        },
        {
          "data": {"values": [{}]},
          "mark": {"type": "rule", "color": "#333333", "strokeWidth": 1.8},
          "encoding": {"y": {"datum": 0, "type": "quantitative", "axis": null}}
        },
        {
          "transform": [{"filter": "datum.series === 'without'"}],
          "mark": {"type": "line", "strokeWidth": 2.2, "interpolate": "catmull-rom"},
          "encoding": {
            "x": {"field": "re", "type": "quantitative", "scale": {"domain": [-0.3, 0.4], "nice": false, "zero": false},
              "axis": {"orient": "bottom", "values": [-0.2,-0.1,0,0.1,0.2,0.3,0.4],
                "labelExpr": "datum.value == 0 ? '0' : replace(format(datum.value, '.1f'), '−', '-')",
                "tickSize": -9, "labelPadding": 25, "title": "Re{H}", "titleBaseline": "alphabetic", "titleY": 77}},
            "y": {"field": "im", "type": "quantitative", "scale": {"domain": [-0.35, 0.35], "nice": false, "zero": false},
              "axis": {"orient": "left", "values": [-0.3,-0.2,-0.1,0,0.1,0.2,0.3],
                "labelExpr": "datum.value == 0 ? '0' : replace(format(datum.value, '.1f'), '−', '-')",
                "tickSize": -9, "labelPadding": 17, "title": "Im{H}", "titleX": -101, "titleY": 443.5, "titleBaseline": "alphabetic"}},
            "order": {"field": "step", "type": "quantitative"},
            "color": {"field": "series", "type": "nominal", "scale": {"domain": ["without", "with"], "range": ["#2e3192", "#ed1c24"]},
              "legend": {"title": null, "orient": "none", "legendX": 312, "legendY": 1016, "labelExpr": "'Simulated sensor-actuator open-loop FRF ' + datum.label + ' compensator'"}}
          }
        },
        {
          "transform": [{"filter": "datum.series === 'with'"}],
          "mark": {"type": "line", "strokeWidth": 2.8, "interpolate": "catmull-rom"},
          "encoding": {
            "x": {"field": "re", "type": "quantitative", "scale": {"domain": [-0.3, 0.4], "nice": false, "zero": false},
              "axis": {"orient": "top", "values": [-0.2,-0.1,0,0.1,0.2,0.3,0.4], "labels": false, "tickSize": -9, "title": null}},
            "y": {"field": "im", "type": "quantitative", "scale": {"domain": [-0.35, 0.35], "nice": false, "zero": false},
              "axis": {"orient": "right", "values": [-0.3,-0.2,-0.1,0,0.1,0.2,0.3], "labels": false, "tickSize": -9, "title": null}},
            "order": {"field": "step", "type": "quantitative"},
            "color": {"field": "series", "type": "nominal", "scale": {"domain": ["without", "with"], "range": ["#2e3192", "#ed1c24"]},
              "legend": {"title": null, "orient": "none", "legendX": 312, "legendY": 1016, "labelExpr": "'Simulated sensor-actuator open-loop FRF ' + datum.label + ' compensator'"}}
          }
        }
      ],
      "resolve": {"axis": {"x": "independent", "y": "independent"}}
    }
  ],
  "spacing": 31
}
